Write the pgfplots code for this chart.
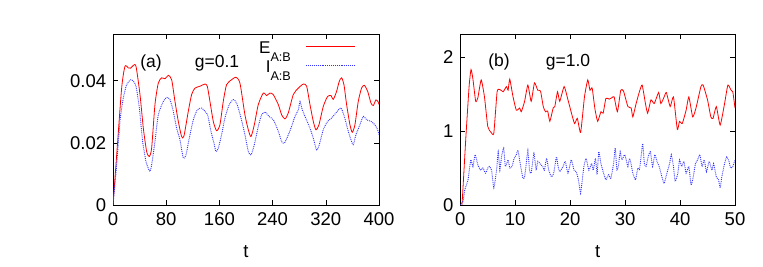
\documentclass[border=0pt]{standalone}
\usepackage{pgfplots}
\pgfplotsset{compat=1.18}
\usepackage{fontspec}
\setmainfont{Liberation Sans}
\begin{document}
\fontsize{18.5}{22}\selectfont
\begin{tikzpicture}
\useasboundingbox (0,0) rectangle (763pt,267pt);
\pgfplotsset{
  every axis/.append style={
    scale only axis, height=171pt, anchor=south west,
    /pgf/number format/assume math mode=true,
    scaled y ticks=false, scaled x ticks=false,
    axis line style={black, line width=0.5pt},
    tick style={black, line width=0.5pt},
    major tick length=5pt,
    tick align=inside,
    tick label style={font=\fontsize{18.5}{22}\selectfont},
    label style={font=\fontsize{18.5}{22}\selectfont},
    xlabel={t},
    every axis x label/.style={at={(rel axis cs:0.5,0)}, anchor=base, yshift=-53pt},
    yticklabel style={xshift=-0.5pt},
    xticklabel style={yshift=-1pt},
  },
}
% ---------- panel (a) ----------
\begin{axis}[
  at={(113pt,62pt)}, width=266pt,
  xmin=0, xmax=400, ymin=0, ymax=0.055,
  xtick={0,80,160,240,320,400},
  ytick={0,0.02,0.04}, yticklabels={0,0.02,0.04},
  legend style={draw=none, fill=none, at={(rel axis cs:0.9135,0.9737)}, anchor=north east,
    row sep=0pt, column sep=13pt, inner sep=0pt,
    font=\fontsize{17}{20}\selectfont},
  legend plot pos=right, legend cell align=right,
  legend image code/.code={\draw[#1] (0pt,2pt) -- (49pt,2pt);},
]
\addplot[color=red, line width=0.8pt, smooth, tension=0.4] coordinates {
(0,0) (5.5,0.016) (13,0.0376) (18,0.0446) (23,0.0441) (26.5,0.0440) (30.6,0.0449) (34.6,0.0446) (40.6,0.0355) (45.6,0.0247) (50.6,0.0172) (54.6,0.0156) (58.1,0.0183) (63.1,0.0323) (68.1,0.0392) (73.2,0.0409) (78.2,0.0406) (83.2,0.0417) (88.2,0.0403) (93.2,0.0333) (98.2,0.0269) (103.2,0.0220) (106.7,0.0222) (113.2,0.0301) (118.2,0.0355) (123.3,0.0376) (130.8,0.0382) (138.3,0.0389) (141.8,0.0382) (145.8,0.0333) (150.8,0.0269) (155.8,0.0239) (160.8,0.0258) (165.8,0.0333) (170.8,0.0387) (178.4,0.0403) (184.9,0.0411) (190.9,0.0392) (198.4,0.0290) (203.5,0.0242) (207.5,0.0220) (212.5,0.0258) (218.5,0.0323) (226,0.0360) (231,0.0352) (236,0.0360) (241,0.0355) (248.6,0.0323) (253.6,0.0290) (258.6,0.0277) (263.6,0.0296) (271.1,0.0355) (278.7,0.0376) (286.2,0.0389) (291.2,0.0382) (296.2,0.0323) (301.2,0.0269) (305.2,0.0242) (309.7,0.0258) (316.2,0.0317) (322.7,0.0349) (327.8,0.0352) (331.3,0.0340) (336.3,0.0366) (340.3,0.0398) (343.8,0.0409) (347.3,0.0387) (351.3,0.0323) (356.3,0.0258) (359.8,0.0234) (363.8,0.0258) (368.8,0.0333) (373.8,0.0376) (377.9,0.0385) (382.9,0.0366) (387.9,0.0328) (391.4,0.0320) (395.4,0.0338) (398.9,0.0331) (400,0.0323)
};
\addlegendentry{E\raisebox{-8pt}{\fontsize{12.6}{13}\selectfont A:B}\rule[-8.2pt]{0pt}{20.7pt}}
\addplot[color=blue!80, line width=0.9pt, densely dotted, smooth, tension=0.4] coordinates {
(0,0) (5.5,0.0129) (10.5,0.0269) (15.5,0.0344) (20.5,0.0387) (26.6,0.0403) (30.6,0.0398) (34.6,0.0382) (39.6,0.0312) (44.6,0.0204) (49.6,0.0140) (53.1,0.0118) (55.6,0.0108) (58.1,0.0129) (63.1,0.0204) (68.1,0.0290) (75.7,0.0333) (80.7,0.0346) (85.7,0.0339) (90.7,0.0301) (95.7,0.0247) (100.7,0.0210) (105.7,0.0151) (109.7,0.0161) (114.7,0.0215) (120.8,0.0274) (126.8,0.0306) (133.3,0.0312) (138.3,0.0301) (142.3,0.0290) (147.3,0.0237) (151.8,0.0199) (154.8,0.0172) (158.3,0.0183) (163.3,0.0226) (168.3,0.0280) (174.8,0.0323) (180.9,0.0339) (185.9,0.0328) (191.9,0.0285) (198.4,0.0226) (203.5,0.0172) (207.5,0.0161) (212.5,0.0194) (218.5,0.0253) (223.5,0.0290) (228.6,0.0299) (234.6,0.0285) (241.1,0.0274) (248.6,0.0237) (253.6,0.0204) (257.6,0.0199) (262.6,0.0220) (268.6,0.0253) (273.6,0.0285) (278.7,0.0306) (281.2,0.0333) (284.7,0.0306) (289.7,0.0280) (296.2,0.0247) (301.2,0.0215) (306.2,0.0177) (310.2,0.0194) (316.2,0.0242) (322.7,0.0269) (328.8,0.0280) (336.3,0.0299) (342.8,0.0312) (347.8,0.0285) (353.8,0.0237) (357.8,0.0210) (361.3,0.0194) (365.3,0.0226) (371.3,0.0258) (376.4,0.0285) (381.4,0.0274) (387.9,0.0269) (393.9,0.0258) (397.9,0.0242) (400,0.0226)
};
\addlegendentry{I\raisebox{-8pt}{\fontsize{12.6}{13}\selectfont A:B}\rule[-8.2pt]{0pt}{20.7pt}}
\node[anchor=base, font=\fontsize{17.5}{21}\selectfont] at (rel axis cs:0.143,0.803) {(a)};
\node[anchor=base, font=\fontsize{17.5}{21}\selectfont] at (rel axis cs:0.391,0.803) {g=0.1};
\end{axis}
% ---------- panel (b) ----------
\begin{axis}[
  at={(460.3pt,62pt)}, width=274.7pt,
  xmin=0, xmax=50, ymin=0, ymax=2.31,
  xtick={0,10,20,30,40,50},
  ytick={0,1,2},
]
\addplot[color=red, line width=0.8pt, smooth, tension=0.3] coordinates {
(0,0) (0.3,0.0) (1.0,0.9) (1.6,1.6) (1.95,1.83) (2.3,1.7) (2.8,1.40) (3.2,1.45) (3.8,1.69) (4.4,1.46) (5.0,1.06) (5.6,0.98) (6.1,0.97) (6.7,1.53) (7.2,1.56) (7.8,1.53) (8.4,1.60) (8.7,1.55) (9.0,1.70) (9.6,1.46) (10.2,1.28) (10.8,1.31) (11.1,1.26) (11.7,1.40) (12.3,1.62) (12.9,1.40) (13.5,1.65) (14.1,1.55) (14.6,1.54) (15.1,1.33) (15.5,1.26) (15.9,1.27) (16.3,1.13) (16.9,1.31) (17.2,1.33) (17.7,1.53) (18.1,1.40) (18.9,1.60) (19.6,1.42) (20.2,1.25) (20.8,1.10) (21.3,1.17) (21.9,0.98) (22.6,1.46) (23.2,1.69) (23.6,1.55) (24.0,1.58) (24.5,1.30) (25.0,1.13) (25.6,1.26) (26.0,1.24) (26.5,1.44) (27.1,1.43) (27.6,1.45) (28.0,1.46) (28.6,1.26) (29.2,1.55) (29.7,1.54) (30.5,1.33) (31.1,1.31) (31.4,1.19) (32.0,1.37) (32.6,1.53) (33.1,1.62) (33.7,1.37) (34.1,1.24) (34.7,1.42) (35.3,1.37) (36.1,1.52) (36.5,1.37) (37.1,1.46) (37.5,1.52) (38.2,1.33) (38.8,1.46) (39.5,1.02) (39.9,1.13) (40.4,1.10) (41.1,1.28) (41.6,1.46) (42.3,1.19) (42.9,1.31) (43.8,1.60) (44.2,1.62) (45.0,1.42) (45.6,1.19) (46.0,1.17) (46.6,1.33) (47.3,1.08) (48.1,1.37) (48.7,1.62) (49.3,1.55) (49.6,1.53) (50,1.31)
};
\addplot[color=blue!80, line width=0.9pt, densely dotted, smooth, tension=0.3] coordinates {
(0,0) (0.5,0.05) (0.8,0.2) (1.4,0.34) (1.9,0.61) (2.3,0.52) (2.7,0.68) (3.2,0.54) (3.7,0.47) (4.1,0.50) (4.6,0.43) (5.0,0.50) (5.3,0.52) (5.7,0.47) (6.1,0.23) (6.6,0.47) (6.9,0.72) (7.2,0.47) (7.5,0.65) (7.9,0.77) (8.2,0.52) (8.7,0.61) (9.0,0.50) (9.4,0.52) (9.8,0.63) (10.2,0.68) (10.5,0.74) (10.9,0.56) (11.4,0.36) (11.7,0.38) (12.0,0.56) (12.3,0.74) (12.6,0.47) (12.9,0.43) (13.4,0.70) (13.8,0.47) (14.1,0.59) (14.6,0.55) (15.0,0.52) (15.3,0.47) (15.7,0.63) (16.1,0.47) (16.6,0.38) (17.0,0.43) (17.5,0.65) (17.8,0.52) (18.1,0.45) (18.7,0.52) (19.1,0.59) (19.6,0.43) (20.2,0.61) (20.7,0.47) (21.1,0.45) (21.5,0.34) (21.9,0.16) (22.2,0.34) (22.5,0.52) (22.9,0.63) (23.4,0.47) (23.9,0.56) (24.2,0.47) (24.6,0.63) (24.9,0.41) (25.2,0.72) (25.6,0.56) (26.0,0.45) (26.5,0.34) (27.0,0.41) (27.4,0.36) (27.9,0.56) (28.2,0.77) (28.5,0.47) (28.8,0.54) (29.1,0.72) (29.4,0.61) (29.9,0.68) (30.2,0.61) (30.5,0.52) (30.8,0.63) (31.1,0.55) (31.4,0.43) (31.9,0.34) (32.3,0.50) (32.6,0.48) (32.9,0.65) (33.2,0.83) (33.5,0.56) (33.8,0.52) (34.2,0.65) (34.6,0.72) (35.0,0.52) (35.4,0.68) (35.8,0.59) (36.2,0.52) (36.7,0.38) (37.1,0.29) (37.6,0.43) (38.1,0.56) (38.4,0.68) (38.8,0.52) (39.1,0.32) (39.6,0.43) (39.9,0.61) (40.3,0.52) (40.7,0.59) (41.1,0.43) (41.6,0.52) (42.0,0.27) (42.4,0.38) (42.8,0.56) (43.2,0.61) (43.6,0.68) (44.0,0.52) (44.4,0.61) (44.8,0.45) (45.3,0.59) (45.8,0.47) (46.1,0.56) (46.6,0.38) (47.0,0.34) (47.3,0.23) (47.6,0.38) (48.1,0.56) (48.5,0.65) (48.9,0.59) (49.2,0.50) (49.6,0.52) (50,0.61)
};
\node[anchor=base, font=\fontsize{17.5}{21}\selectfont] at (rel axis cs:0.141,0.809) {(b)};
\node[anchor=base, font=\fontsize{17.5}{21}\selectfont] at (rel axis cs:0.392,0.809) {g=1.0};
\end{axis}
\end{tikzpicture}
\end{document}
